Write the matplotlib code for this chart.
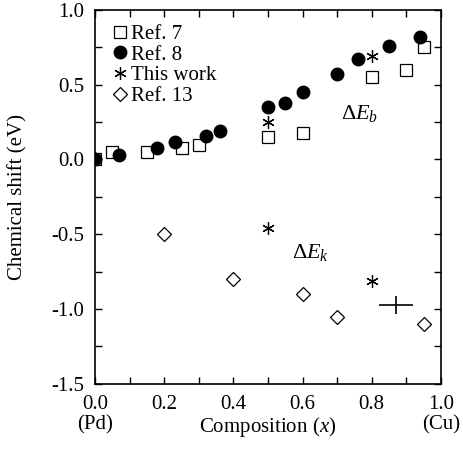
import matplotlib
matplotlib.use("Agg")
import matplotlib.pyplot as plt
from matplotlib.ticker import MultipleLocator

plt.rcParams['font.family'] = ['Liberation Serif', 'DejaVu Serif']
plt.rcParams['mathtext.fontset'] = 'custom'
plt.rcParams['mathtext.rm'] = 'Liberation Serif'
plt.rcParams['mathtext.it'] = 'Liberation Serif:italic'

# Ref. 7 (open squares)
ref7_x = [0.0, 0.05, 0.15, 0.25, 0.30, 0.50, 0.60, 0.80, 0.90, 0.95]
ref7_y = [0.0, 0.05, 0.05, 0.08, 0.10, 0.15, 0.18, 0.55, 0.60, 0.75]

# Ref. 8 (filled circles)
ref8_x = [0.0, 0.07, 0.18, 0.23, 0.32, 0.36, 0.50, 0.55, 0.60, 0.70, 0.76, 0.85, 0.94]
ref8_y = [0.0, 0.03, 0.08, 0.12, 0.16, 0.19, 0.35, 0.38, 0.45, 0.57, 0.67, 0.76, 0.82]

# This work (asterisks)
this_x = [0.50, 0.80, 0.50, 0.80]
this_y = [0.25, 0.69, -0.46, -0.81]

# Ref. 13 (open diamonds)
ref13_x = [0.2, 0.4, 0.6, 0.7, 0.95]
ref13_y = [-0.50, -0.80, -0.90, -1.05, -1.10]

# error bar cross
err_x, err_y = 0.87, -0.97
err_dx, err_dy = 0.05, 0.06

fig = plt.figure(figsize=(4.64, 4.49), dpi=100)
ax = fig.add_axes([0.205, 0.145, 0.745, 0.833])

ax.plot(ref7_x, ref7_y, 's', ms=8, mfc='white', mec='black', mew=0.9, label='Ref. 7')
ax.plot(ref8_x, ref8_y, 'o', ms=9, mfc='black', mec='black', label='Ref. 8')
ax.plot(this_x, this_y, ls='none', marker=(6, 2, 0), ms=9, mec='black', mew=0.9, label='This work')
ax.plot(ref13_x, ref13_y, 'D', ms=7, mfc='white', mec='black', mew=0.9, label='Ref. 13')
ax.errorbar([err_x], [err_y], xerr=err_dx, yerr=err_dy, fmt='none', ecolor='black', elinewidth=1.2, capsize=0)

ax.text(0.71, 0.27, r'$\Delta E_b$', fontsize=16)
ax.text(0.57, -0.66, r'$\Delta E_k$', fontsize=16)

ax.set_xlim(0, 1.0)
ax.set_ylim(-1.5, 1.0)
ax.xaxis.set_major_locator(MultipleLocator(0.2))
ax.xaxis.set_minor_locator(MultipleLocator(0.1))
ax.yaxis.set_major_locator(MultipleLocator(0.5))
ax.yaxis.set_minor_locator(MultipleLocator(0.25))
ax.xaxis.set_major_formatter(lambda v, p: f'{v:.1f}')
ax.yaxis.set_major_formatter(lambda v, p: f'{v:.1f}')
ax.tick_params(which='both', direction='in', top=True, right=True, labelsize=15, width=1)
ax.tick_params(which='major', length=5, pad=8)
ax.tick_params(which='minor', length=5)
for s in ax.spines.values():
    s.set_linewidth(1.2)

ax.set_ylabel('Chemical shift (eV)', fontsize=15, labelpad=17)
ax.set_xlabel(r'Composition ($x$)', fontsize=15, labelpad=1)
ax.text(0.0, -0.085, '(Pd)', transform=ax.transAxes, ha='center', va='top', fontsize=15)
ax.text(1.0, -0.085, '(Cu)', transform=ax.transAxes, ha='center', va='top', fontsize=15)

ax.legend(loc='upper left', frameon=False, fontsize=15, handletextpad=0.0,
          handlelength=1.0, labelspacing=0.05, borderaxespad=0.3, bbox_to_anchor=(0.0, 1.0))

fig.savefig('out.png', dpi=100)
